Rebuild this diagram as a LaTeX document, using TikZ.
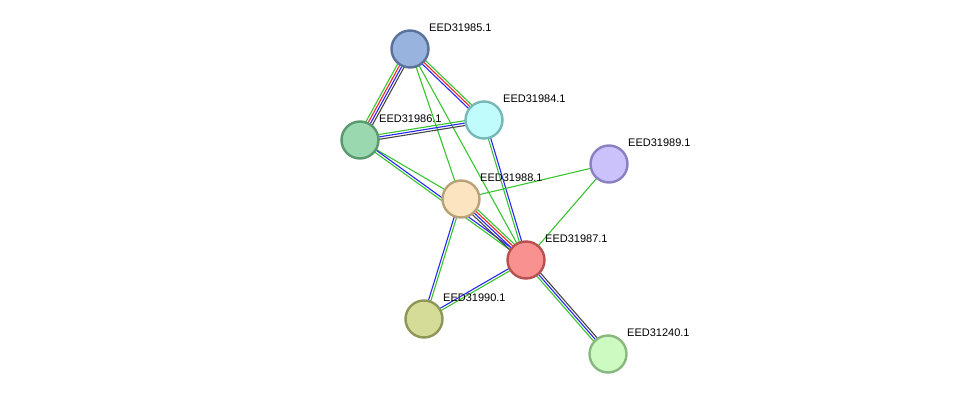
\documentclass[tikz,border=0pt]{standalone}
\usepackage{fontspec}
\setmainfont{Liberation Sans}
\usepackage[outline]{contour}
\contourlength{1.2pt}
\usetikzlibrary{calc,backgrounds}

\definecolor{lgreen}{RGB}{56,196,48}
\definecolor{lred}{RGB}{240,40,40}
\definecolor{lblue}{RGB}{40,40,245}
\definecolor{lblack}{RGB}{70,70,70}

\tikzset{
  prot/.style={circle, minimum size=37pt, inner sep=0pt, line width=2.4pt},
  lbl/.style={anchor=west, inner sep=0pt, font=\fontsize{11}{13}\selectfont},
}

% parallel coloured links between two proteins
\newcommand{\strlink}[3]{%
  \foreach \c/\o in {#3}
    \draw[\c, line width=1.1pt] ($(#1)!\o pt!90:(#2)$) -- ($(#2)!\o pt!-90:(#1)$);
}

\begin{document}
\begin{tikzpicture}[x=1pt, y=-1pt]
\useasboundingbox (0,0) rectangle (975,401);

\node[prot, draw={rgb,255:red,90;green,114;blue,153}, fill={rgb,255:red,151;green,179;blue,222}] (n85) at (410,49) {};
\node[prot, draw={rgb,255:red,120;green,184;blue,184}, fill={rgb,255:red,192;green,252;blue,252}] (n84) at (484,120) {};
\node[prot, draw={rgb,255:red,90;green,153;blue,112}, fill={rgb,255:red,154;green,217;blue,176}] (n86) at (360,140) {};
\node[prot, draw={rgb,255:red,185;green,162;blue,122}, fill={rgb,255:red,253;green,228;blue,192}] (n88) at (461,199) {};
\node[prot, draw={rgb,255:red,138;green,128;blue,192}, fill={rgb,255:red,203;green,194;blue,251}] (n89) at (609,164) {};
\node[prot, draw={rgb,255:red,184;green,80;blue,80}, fill={rgb,255:red,250;green,145;blue,145}] (n87) at (526,260) {};
\node[prot, draw={rgb,255:red,142;green,150;blue,88}, fill={rgb,255:red,212;green,220;blue,152}] (n90) at (424,319) {};
\node[prot, draw={rgb,255:red,136;green,184;blue,128}, fill={rgb,255:red,204;green,250;blue,192}] (n240) at (608,354) {};

\node[lbl] (t85) at ($(n85)+(19,-21)$) {\contour{white}{EED31985.1}};
\node[lbl] (t84) at ($(n84)+(19,-21)$) {\contour{white}{EED31984.1}};
\node[lbl] (t86) at ($(n86)+(19,-21)$) {\contour{white}{EED31986.1}};
\node[lbl] (t88) at ($(n88)+(19,-21)$) {\contour{white}{EED31988.1}};
\node[lbl] (t89) at ($(n89)+(19,-21)$) {\contour{white}{EED31989.1}};
\node[lbl] (t87) at ($(n87)+(19,-21)$) {\contour{white}{EED31987.1}};
\node[lbl] (t90) at ($(n90)+(19,-21)$) {\contour{white}{EED31990.1}};
\node[lbl] (t240) at ($(n240)+(19,-21)$) {\contour{white}{EED31240.1}};

\begin{scope}[on background layer]
\strlink{n85}{n86}{lgreen/-3.6, lred/-1.2, lblue/1.2, lblack/3.6}
\strlink{n85}{n84}{lgreen/2.4, lred/0, lblue/-2.4}
\strlink{n85}{n88}{lgreen/0}
\strlink{n85}{n87}{lgreen/0}
\strlink{n86}{n84}{lgreen/2.4, lblue/0, lblack/-2.4}
\strlink{n86}{n88}{lgreen/0}
\strlink{n86}{n87}{lblue/1.2, lgreen/-1.2}
\strlink{n84}{n87}{lblue/1.2, lgreen/-1.2}
\strlink{n88}{n89}{lgreen/0}
\strlink{n89}{n87}{lgreen/0}
\strlink{n88}{n87}{lgreen/3.6, lred/1.2, lblue/-1.2, lblack/-3.6}
\strlink{n88}{n90}{lblue/-1.2, lgreen/1.2}
\strlink{n90}{n87}{lblue/1.2, lgreen/-1.2}
\strlink{n87}{n240}{lgreen/-2.4, lblue/0, lblack/2.4}
\end{scope}
\end{tikzpicture}
\end{document}
